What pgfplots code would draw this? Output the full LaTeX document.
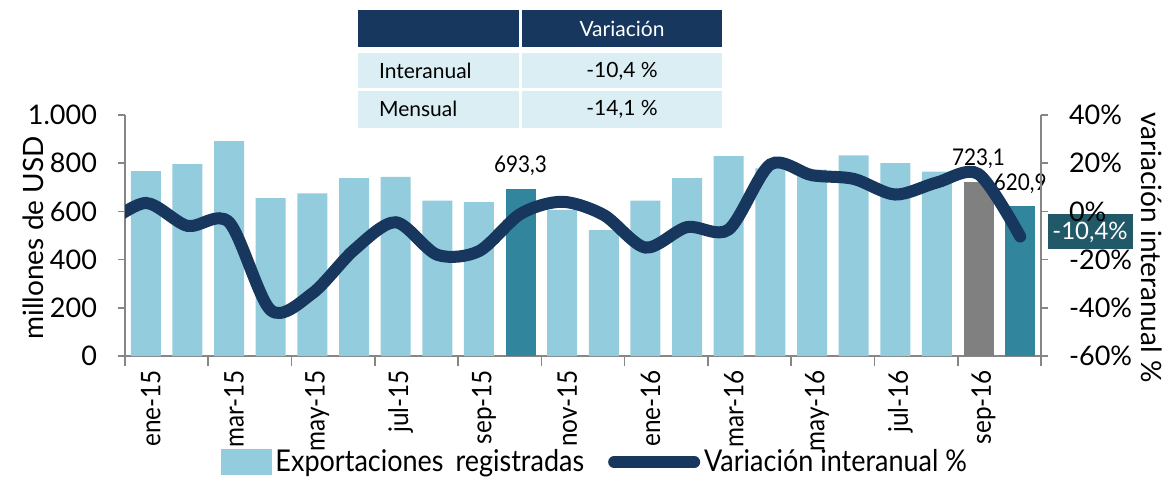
\documentclass[border=0pt]{standalone}
\usepackage{fontspec}
\setmainfont{Lato}
\newfontfamily\legfont[FakeStretch=0.9]{Lato}
\usepackage{pgfplots}
\usepackage{pgfplotstable}
\pgfplotsset{compat=1.18}
\definecolor{barblue}{HTML}{93CDDD}
\definecolor{barteal}{HTML}{31859C}
\definecolor{bargrey}{HTML}{808080}
\definecolor{navy}{HTML}{17375E}
\definecolor{callout}{HTML}{215968}
\definecolor{rowblue}{HTML}{DAEEF3}
\definecolor{axgrey}{HTML}{868686}

% exportaciones registradas (millones de USD), meses 0 = ene-15
\pgfplotstableread{
x val
0 767
1 796
2 892
3 655
4 675
5 738
6 743
7 645
8 638
10 606
11 522
12 645
13 738
14 829
15 779
16 773
17 833
18 800
19 765
}\bars
% variacion interanual %
\pgfplotstableread{
x pct
-1 -6
0 3.5
1 -6
2 -4.5
3 -41
4 -34
5 -16
6 -4.5
7 -18
8 -16.5
9 -1
10 4
11 -1.5
12 -15
13 -6.5
14 -7.5
15 19.5
16 15
17 13.5
18 7
19 12
20 15.5
21 -10.4
}\interanual

\pgfplotsset{
  base/.style={
    at={(0,0)}, anchor=south west,
    scale only axis, width=458pt, height=120.5pt,
    xmin=-0.5, xmax=21.5,
    axis line style={axgrey, line width=0.8pt},
    tick style={axgrey, line width=0.8pt},
    tick align=outside,
    ticklabel style={font=\fontsize{13.5}{15}\selectfont},
    /pgf/number format/use comma,
    /pgf/number format/assume math mode=true,
  },
}

\begin{document}
\begin{tikzpicture}
\useasboundingbox (-62.5pt,-71.5pt) rectangle (522.5pt,178pt);

\begin{scope}[x=0.5pt,y=-0.5pt,shift={(-125,-356)}]
  % tabla
  \fill[navy] (358,10) rectangle (519,47);
  \fill[navy] (522,10) rectangle (722,47);
  \fill[rowblue] (358,53) rectangle (519,88);
  \fill[rowblue] (522,53) rectangle (722,88);
  \fill[rowblue] (358,91) rectangle (519,128);
  \fill[rowblue] (522,91) rectangle (722,128);
  \begin{scope}[font=\fontsize{10.5}{12}\selectfont]
    \node[white] at (622,29) {Variación};
    \node[anchor=west] at (372,71) {Interanual};
    \node at (622,71) {-10,4 \%};
    \node[anchor=west] at (372,109) {Mensual};
    \node at (622,109) {-14,1 \%};
  \end{scope}
  % recuadro del ultimo dato
  \fill[callout] (1048,214) rectangle (1133,249);
  \node[white, font=\fontsize{12}{14}\selectfont] at (1090,232) {-10,4\%};
\end{scope}

\begin{axis}[base,
  ybar, bar width=15pt,
  ymin=0, ymax=1000,
  ytick={0,200,...,1000},
  major tick length=3.5pt,
  axis x line*=bottom, axis y line*=left,
  yticklabel style={xshift=-7pt},
  xtick={0,2,...,20},
  xticklabels={ene-15,mar-15,may-15,jul-15,sep-15,nov-15,ene-16,mar-16,may-16,jul-16,sep-16},
  xticklabel style={rotate=90, anchor=east, yshift=-2.5pt, font=\legfont\fontsize{13.5}{15}\selectfont},
  major x tick style={draw=none},
  minor xtick={-0.5,1.5,...,21.5},
  minor tick length=5pt,
  ylabel={millones de USD},
  ylabel style={font=\fontsize{14}{16}\selectfont, at={(axis description cs:-0.1,0.49)}, anchor=center},
  nodes near coords,
  every node near coord/.append style={black, font=\legfont\fontsize{11.5}{13}\selectfont, yshift=3pt,
    /pgf/number format/fixed, /pgf/number format/fixed zerofill,
    /pgf/number format/precision=1, /pgf/number format/use comma},
]
\addplot[fill=barblue, draw=none, bar shift=0pt, nodes near coords=\empty] table[x=x, y=val] {\bars};
\addplot[fill=barteal, draw=none, bar shift=0pt] coordinates {(9,693.3)};
\addplot[fill=bargrey, draw=none, bar shift=0pt] coordinates {(20,723.1)};
\addplot[fill=barteal, draw=none, bar shift=0pt] coordinates {(21,620.9)};
\end{axis}

\begin{axis}[base,
  ymin=-60, ymax=40,
  ytick={-60,-40,...,40},
  major tick length=3.5pt,
  axis y line*=right, axis x line=none,
  yticklabel={\pgfmathprintnumber{\tick}\%},
  yticklabel style={anchor=west, xshift=7pt},
  ylabel={variación interanual \%},
  ylabel style={font=\fontsize{14}{16}\selectfont, rotate=180,
    at={(axis description cs:1.121,0.45)}, anchor=center},
  legend style={at={(0.514,-0.44)}, anchor=center, draw=none, fill=none,
    font=\legfont\fontsize{15}{17}\selectfont, legend columns=2,
    /tikz/every even column/.append style={column sep=10pt},
    inner sep=0pt},
]
\addlegendimage{legend image code/.code={\fill[barblue] (0pt,-6.25pt) rectangle (25pt,6.25pt);}}
\addlegendentry{Exportaciones\, registradas}
\addplot[navy, line width=6pt, line cap=round, smooth, tension=0.5,
  legend image code/.code={\draw[navy, line width=6pt, line cap=round] (3pt,0pt) -- (43pt,0pt);}]
  table[x=x, y=pct] {\interanual};
\addlegendentry{Variación interanual \%}
\end{axis}
\end{tikzpicture}
\end{document}
